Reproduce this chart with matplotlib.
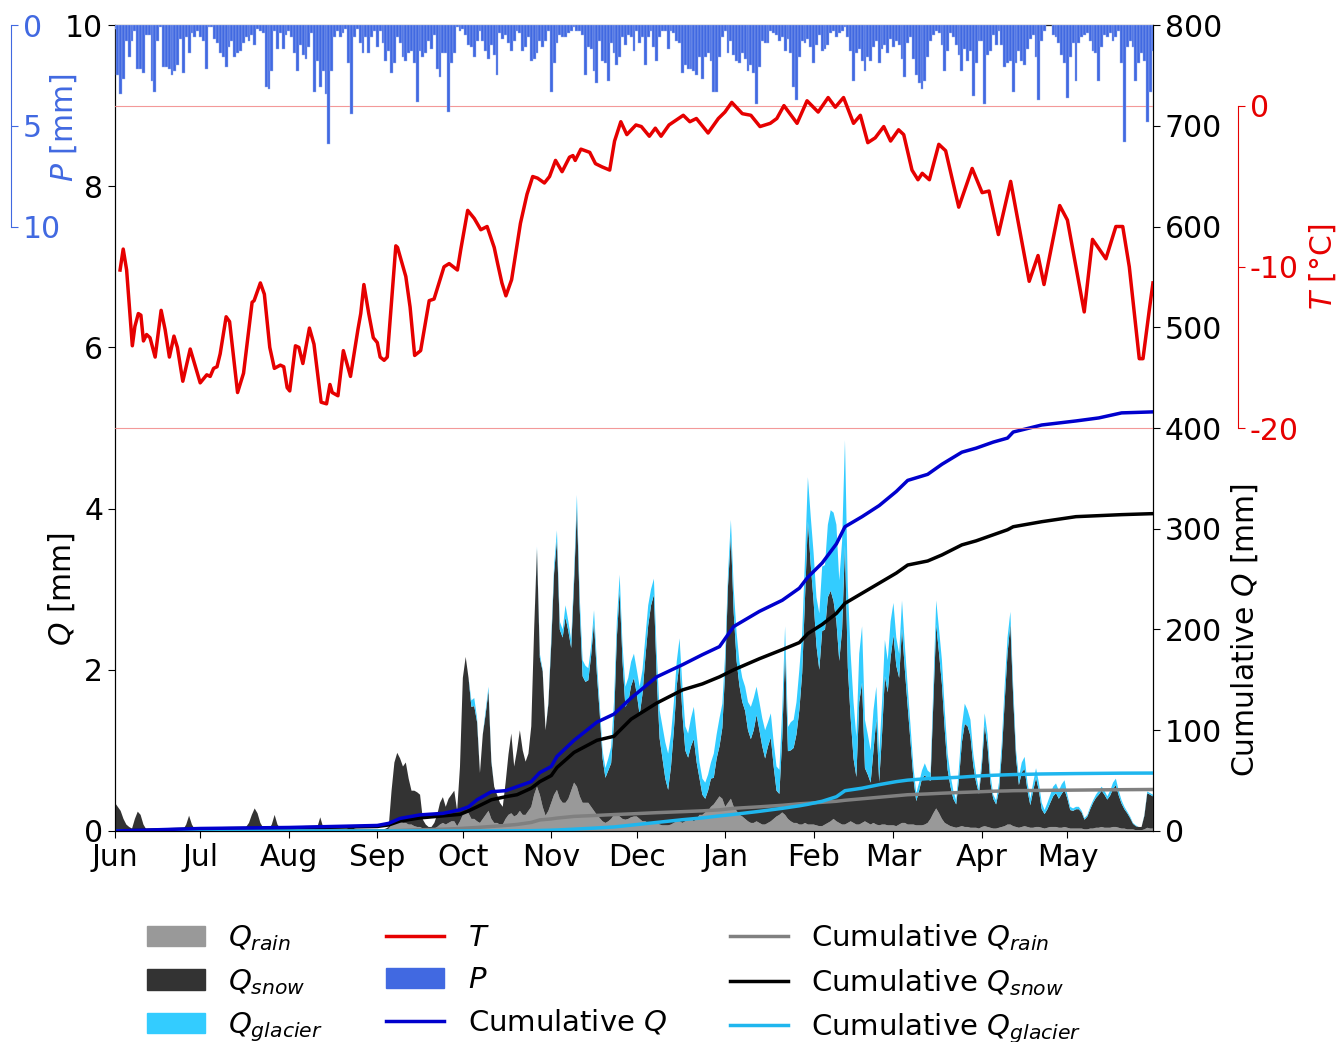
import numpy as np
import pandas as pd
import matplotlib
matplotlib.use("Agg")
import matplotlib.pyplot as plt
import matplotlib.dates as mdates
from matplotlib.patches import Patch
from matplotlib.lines import Line2D

plt.rcParams["font.size"] = 21.5
plt.rcParams["axes.unicode_minus"] = False

START = pd.Timestamp("2018-06-01")
days = pd.date_range(START, "2019-05-31", freq="D")

# ── daily precipitation P [mm] ────────────────────────────────────────────────
p_daily = [
    # Jun
    0.2, 2.5, 3.4, 2.7, 0.8, 1.6, 0.8, 0.3, 2.2, 2.2, 2.4, 0.5, 0.5, 2.8, 3.3,
    0.8, 0.1, 2.1, 2.1, 2.2, 2.5, 2.3, 2.0, 0.7, 2.4, 0.6, 1.4, 0.4, 0.6, 0.3,
    # Jul
    0.6, 0.8, 2.2, 0.1, 0.1, 0.7, 0.9, 1.4, 1.6, 2.1, 1.1, 0.8, 1.6, 1.4, 1.3, 0.9,
    0.6, 0.8, 0.5, 1.0, 0.2, 0.3, 0.4, 3.1, 3.2, 2.3, 0.3, 1.2, 0.4, 1.2, 0.5,
    # Aug
    0.3, 0.6, 1.4, 2.3, 1.0, 1.5, 1.7, 1.1, 0.4, 3.3, 1.8, 3.1, 2.3, 3.4, 5.9, 2.3,
    0.6, 0.3, 0.6, 0.4, 0.2, 1.9, 4.4, 0.6, 0.2, 0.9, 1.4, 0.6, 1.4, 0.6, 0.3,
    # Sep
    1.1, 0.3, 0.9, 1.8, 1.3, 2.4, 1.9, 0.6, 0.9, 1.6, 1.8, 1.4, 1.3, 1.9, 3.8,
    1.3, 1.6, 1.4, 0.8, 1.2, 0.5, 2.2, 2.6, 1.4, 1.4, 4.3, 1.9, 1.4, 0.1, 0.3,
    # Oct
    0.2, 0.5, 1.0, 1.1, 1.6, 0.8, 0.3, 0.8, 1.3, 1.7, 1.0, 1.5, 2.5, 0.4, 0.7, 0.5,
    0.9, 1.3, 0.8, 0.3, 0.4, 1.3, 1.1, 0.6, 1.8, 1.7, 1.4, 0.8, 1.1, 0.8, 0.3,
    # Nov
    3.3, 1.9, 0.9, 0.5, 0.6, 0.6, 0.4, 0.3, 0.1, 0.3, 0.3, 0.5, 2.5, 1.1, 1.2,
    2.3, 2.9, 0.8, 1.8, 1.9, 2.8, 0.9, 1.4, 2.0, 1.6, 0.6, 1.0, 0.5, 0.6, 1.3,
    # Dec
    0.3, 0.9, 0.6, 2.0, 0.6, 0.3, 1.1, 1.8, 0.6, 0.3, 0.3, 1.2, 0.3, 0.4, 0.8, 0.9,
    2.4, 2.0, 2.2, 2.2, 2.3, 2.5, 1.6, 2.7, 1.6, 1.4, 1.8, 3.3, 3.3, 1.6, 0.6,
    # Jan
    0.3, 1.4, 0.8, 1.5, 1.8, 1.9, 1.4, 1.7, 2.3, 2.0, 2.4, 3.9, 2.1, 0.8, 0.9, 0.9,
    0.3, 0.4, 0.5, 0.8, 0.6, 1.3, 0.7, 1.4, 3.1, 3.7, 1.6, 0.8, 0.9, 0.7, 1.1,
    # Feb
    1.9, 1.0, 0.5, 1.3, 1.2, 1.0, 0.4, 0.3, 0.6, 0.4, 0.3, 0.1, 0.6, 1.3,
    2.8, 1.4, 1.2, 1.8, 2.3, 1.6, 1.8, 1.1, 0.8, 1.9, 1.2, 1.0, 1.4, 0.7,
    # Mar
    1.1, 0.8, 1.0, 1.7, 2.6, 0.9, 0.6, 1.7, 2.5, 2.9, 3.2, 2.8, 1.6, 0.8, 0.5, 0.3,
    0.4, 1.0, 2.3, 1.3, 0.4, 0.6, 1.0, 1.5, 2.3, 1.2, 1.8, 1.3, 3.5, 1.9, 0.8,
    # Apr
    0.8, 3.9, 1.5, 1.3, 0.5, 1.0, 0.3, 1.0, 2.1, 1.9, 1.8, 3.3, 1.9, 1.3, 1.8,
    2.0, 1.2, 0.7, 0.5, 1.6, 3.7, 0.8, 0.3, 0.0, 0.0, 0.5, 0.6, 0.9, 1.5, 1.9,
    # May
    3.6, 1.6, 0.9, 2.8, 0.9, 0.6, 0.5, 0.4, 0.8, 1.3, 1.4, 2.8, 1.1, 0.5, 0.6, 0.4,
    0.8, 0.6, 0.3, 1.9, 5.8, 1.1, 0.8, 1.1, 2.8, 1.9, 1.4, 1.8, 4.8, 3.3, 1.3,
]

# ── daily runoff components [mm] ──────────────────────────────────────────────
q_snow = [
    # Jun
    0.35, 0.30, 0.25, 0.15, 0.08, 0.05, 0.03, 0.15, 0.24, 0.20, 0.08, 0.02, 0.02, 0.02, 0.02,
    0.02, 0.02, 0.02, 0.02, 0.02, 0.02, 0.02, 0.02, 0.02, 0.02, 0.08, 0.19, 0.08, 0.02, 0.01,
    # Jul
    0.02, 0.02, 0.02, 0.02, 0.02, 0.02, 0.02, 0.02, 0.02, 0.02, 0.02, 0.02, 0.02, 0.02, 0.02, 0.03,
    0.05, 0.10, 0.20, 0.28, 0.22, 0.10, 0.04, 0.02, 0.02, 0.08, 0.20, 0.08, 0.03, 0.02, 0.02,
    # Aug
    0.02, 0.02, 0.02, 0.02, 0.02, 0.02, 0.02, 0.02, 0.02, 0.02, 0.05, 0.17, 0.05, 0.02, 0.02, 0.02,
    0.02, 0.02, 0.02, 0.02, 0.02, 0.04, 0.06, 0.03, 0.02, 0.02, 0.02, 0.02, 0.02, 0.02, 0.02,
    # Sep
    0.02, 0.02, 0.02, 0.03, 0.02, 0.42, 0.75, 0.85, 0.78, 0.70, 0.75, 0.57, 0.42, 0.44, 0.43,
    0.40, 0.11, 0.06, 0.03, 0.03, 0.07, 0.15, 0.27, 0.32, 0.22, 0.30, 0.33, 0.38, 0.19, 0.68,
    # Oct
    1.70, 1.91, 1.68, 1.39, 1.40, 1.23, 0.62, 1.05, 1.25, 1.49, 0.71, 0.45, 0.35, 0.27, 0.22, 0.45,
    0.75, 0.99, 0.62, 0.80, 1.00, 0.80, 0.66, 0.71, 1.00, 2.05, 2.95, 1.70, 1.68, 1.06, 1.33,
    # Nov
    1.97, 2.75, 3.10, 2.10, 2.05, 2.30, 2.08, 1.77, 2.48, 3.47, 2.32, 1.57, 1.50, 1.52, 1.88,
    2.34, 1.75, 1.30, 0.78, 0.56, 0.63, 0.69, 1.15, 2.20, 2.80, 1.95, 1.40, 1.45, 1.63, 1.72,
    # Dec
    1.52, 1.29, 1.58, 2.03, 2.45, 2.70, 2.83, 1.80, 1.07, 0.83, 0.58, 0.44, 0.72, 1.15, 1.68, 1.97,
    1.35, 0.88, 0.76, 0.90, 1.02, 0.70, 0.45, 0.25, 0.17, 0.25, 0.35, 0.33, 0.52, 0.62, 0.88,
    # Jan
    1.70, 2.70, 3.26, 2.40, 1.86, 1.60, 1.42, 1.34, 1.13, 1.04, 1.15, 1.32, 1.15, 0.97, 0.82, 0.95,
    1.04, 0.65, 0.32, 0.26, 0.92, 2.04, 0.84, 0.88, 0.93, 1.10, 1.42, 1.88, 2.80, 3.76, 3.22,
    # Feb
    2.77, 2.23, 1.94, 2.42, 2.42, 2.80, 2.86, 2.70, 2.48, 2.01, 2.42, 3.47, 1.93, 1.28,
    0.80, 0.59, 1.52, 1.74, 0.66, 0.60, 0.52, 0.90, 1.31, 0.54, 1.12, 1.84, 1.65, 2.08,
    # Mar
    2.36, 1.99, 1.82, 2.41, 1.90, 1.46, 1.02, 0.57, 0.30, 0.43, 0.58, 0.61, 0.55, 0.47, 1.38, 2.28,
    1.98, 1.67, 1.15, 0.68, 0.49, 0.35, 0.29, 0.60, 1.04, 1.28, 1.25, 1.14, 0.77, 0.56, 0.43,
    # Apr
    0.75, 1.25, 1.00, 0.56, 0.37, 0.30, 0.46, 0.90, 1.54, 2.12, 2.49, 1.59, 0.85, 0.53, 0.68,
    0.71, 0.45, 0.28, 0.46, 0.61, 0.45, 0.23, 0.18, 0.23, 0.30, 0.38, 0.42, 0.36, 0.42, 0.46,
    # May
    0.36, 0.23, 0.22, 0.24, 0.24, 0.20, 0.12, 0.16, 0.24, 0.32, 0.37, 0.41, 0.45, 0.41, 0.35, 0.40,
    0.47, 0.52, 0.40, 0.31, 0.24, 0.20, 0.14, 0.07, 0.05, 0.04, 0.04, 0.17, 0.43, 0.42, 0.40,
]

q_rain = [0.0] * 92 + [  # nothing from rain Jun-Aug
    # Sep
    0.00, 0.00, 0.00, 0.00, 0.03, 0.08, 0.10, 0.12, 0.12, 0.10, 0.10, 0.08, 0.08, 0.06, 0.05,
    0.05, 0.03, 0.02, 0.02, 0.02, 0.03, 0.05, 0.08, 0.10, 0.08, 0.10, 0.12, 0.12, 0.06, 0.12,
    # Oct
    0.20, 0.25, 0.22, 0.15, 0.15, 0.12, 0.10, 0.15, 0.20, 0.25, 0.15, 0.10, 0.10, 0.08, 0.08, 0.15,
    0.20, 0.22, 0.18, 0.20, 0.25, 0.20, 0.20, 0.25, 0.30, 0.45, 0.55, 0.45, 0.30, 0.19, 0.25,
    # Nov
    0.35, 0.45, 0.51, 0.40, 0.35, 0.35, 0.40, 0.50, 0.60, 0.55, 0.43, 0.35, 0.35, 0.35, 0.30,
    0.25, 0.20, 0.16, 0.12, 0.10, 0.12, 0.15, 0.20, 0.20, 0.18, 0.15, 0.14, 0.15, 0.17, 0.18,
    # Dec
    0.18, 0.15, 0.12, 0.12, 0.10, 0.10, 0.10, 0.10, 0.08, 0.07, 0.07, 0.07, 0.08, 0.10, 0.12, 0.12,
    0.10, 0.12, 0.15, 0.15, 0.12, 0.15, 0.20, 0.20, 0.23, 0.25, 0.30, 0.33, 0.38, 0.43, 0.40,
    # Jan
    0.30, 0.35, 0.40, 0.30, 0.25, 0.20, 0.18, 0.15, 0.12, 0.10, 0.10, 0.12, 0.10, 0.08, 0.08, 0.10,
    0.12, 0.15, 0.18, 0.20, 0.23, 0.20, 0.15, 0.12, 0.10, 0.10, 0.08, 0.08, 0.10, 0.08, 0.08,
    # Feb
    0.08, 0.07, 0.06, 0.06, 0.08, 0.10, 0.12, 0.15, 0.12, 0.10, 0.08, 0.08, 0.10, 0.12,
    0.10, 0.08, 0.08, 0.10, 0.12, 0.10, 0.08, 0.10, 0.08, 0.07, 0.08, 0.08, 0.07, 0.07,
    # Mar
    0.07, 0.06, 0.08, 0.10, 0.10, 0.08, 0.08, 0.08, 0.07, 0.07, 0.07, 0.08, 0.10, 0.15, 0.22, 0.28,
    0.22, 0.15, 0.10, 0.08, 0.06, 0.05, 0.04, 0.05, 0.06, 0.05, 0.05, 0.04, 0.04, 0.04, 0.03,
    # Apr
    0.05, 0.06, 0.05, 0.04, 0.03, 0.03, 0.04, 0.05, 0.06, 0.08, 0.08, 0.06, 0.05, 0.04, 0.05,
    0.06, 0.05, 0.04, 0.04, 0.05, 0.05, 0.04, 0.03, 0.04, 0.05, 0.05, 0.05, 0.04, 0.04, 0.05,
    # May
    0.04, 0.03, 0.03, 0.03, 0.03, 0.03, 0.02, 0.02, 0.03, 0.03, 0.04, 0.04, 0.05, 0.04, 0.04, 0.04,
    0.05, 0.05, 0.04, 0.03, 0.03, 0.02, 0.02, 0.02, 0.01, 0.01, 0.01, 0.02, 0.04, 0.03, 0.03,
]

q_glacier = [0.0] * 122 + [  # no ice melt Jun-Sep
    # Oct
    0.00, 0.00, 0.00, 0.08, 0.10, 0.05, 0.00, 0.00, 0.05, 0.05, 0.02, 0.00, 0.00, 0.00, 0.00, 0.00,
    0.00, 0.00, 0.00, 0.00, 0.00, 0.00, 0.00, 0.00, 0.00, 0.00, 0.03, 0.05, 0.02, 0.00, 0.02,
    # Nov
    0.08, 0.10, 0.12, 0.10, 0.10, 0.15, 0.12, 0.10, 0.12, 0.15, 0.15, 0.20, 0.20, 0.15, 0.12,
    0.15, 0.15, 0.12, 0.10, 0.12, 0.15, 0.20, 0.25, 0.20, 0.20, 0.20, 0.25, 0.30, 0.30, 0.30,
    # Dec
    0.30, 0.35, 0.30, 0.25, 0.25, 0.20, 0.20, 0.30, 0.35, 0.40, 0.45, 0.45, 0.40, 0.35, 0.30, 0.30,
    0.35, 0.30, 0.30, 0.35, 0.40, 0.35, 0.20, 0.20, 0.20, 0.20, 0.20, 0.30, 0.30, 0.35, 0.30,
    # Jan
    0.20, 0.15, 0.20, 0.30, 0.35, 0.30, 0.30, 0.30, 0.35, 0.40, 0.40, 0.35, 0.35, 0.35, 0.35, 0.30,
    0.30, 0.30, 0.30, 0.30, 0.35, 0.30, 0.30, 0.35, 0.35, 0.40, 0.50, 0.50, 0.50, 0.55, 0.60,
    # Feb
    0.60, 0.60, 0.70, 0.80, 0.80, 0.90, 1.00, 1.10, 1.20, 1.00, 1.10, 1.30, 1.00, 0.80,
    0.70, 0.50, 0.60, 0.70, 0.60, 0.50, 0.40, 0.50, 0.40, 0.35, 0.40, 0.45, 0.40, 0.45,
    # Mar
    0.40, 0.35, 0.30, 0.35, 0.30, 0.25, 0.20, 0.15, 0.10, 0.10, 0.10, 0.15, 0.10, 0.10, 0.20, 0.30,
    0.30, 0.30, 0.25, 0.20, 0.15, 0.10, 0.05, 0.15, 0.20, 0.25, 0.20, 0.20, 0.15, 0.10, 0.05,
    # Apr
    0.10, 0.15, 0.15, 0.10, 0.05, 0.05, 0.10, 0.15, 0.20, 0.20, 0.15, 0.15, 0.10, 0.10, 0.12,
    0.15, 0.10, 0.08, 0.10, 0.12, 0.10, 0.08, 0.05, 0.08, 0.10, 0.12, 0.12, 0.10, 0.12, 0.12,
    # May
    0.05, 0.04, 0.03, 0.03, 0.03, 0.02, 0.02, 0.02, 0.03, 0.03, 0.04, 0.05, 0.05, 0.05, 0.04, 0.06,
    0.08, 0.08, 0.06, 0.04, 0.03, 0.02, 0.02, 0.01, 0.01, 0.00, 0.00, 0.01, 0.02, 0.02, 0.02,
]

# ── air temperature T [°C], days since 1 Jun ─────────────────────────────────
t_day = [
    1.8, 2.9, 4.1, 6.1, 7.0, 8.2, 9.1, 10.0, 11.1, 12.3,
    14.1, 16.2, 17.6, 19.1, 20.7, 21.9, 23.8, 26.4, 29.9, 32.2,
    33.4, 34.6, 35.8, 36.9, 39.0, 40.2, 43.0, 45.1, 48.1, 48.8,
    51.0, 52.4, 54.3, 55.9, 58.0, 59.2, 60.4, 61.3, 63.3, 64.5,
    65.9, 68.2, 69.8, 72.3, 74.2, 75.4, 76.2, 78.2, 80.1, 82.6,
    85.2, 86.2, 87.3, 89.0, 90.6, 92.0, 93.0, 94.4, 95.5, 98.5,
    99.1, 102.0, 103.5, 105.1, 107.2, 110.2, 111.9, 115.4, 117.2, 120.1,
    121.3, 123.7, 126.0, 128.3, 130.5, 133.0, 134.2, 135.7, 137.1, 139.1,
    142.2, 144.5, 146.5, 148.2, 150.6, 152.4, 154.5, 156.8, 159.4, 160.6,
    161.4, 163.4, 166.5, 168.5, 170.8, 173.5, 175.2, 177.4, 179.5, 182.7,
    184.6, 187.4, 189.5, 191.5, 194.3, 199.3, 201.6, 203.9, 208.0, 211.6,
    213.9, 216.3, 220.0, 223.0, 226.2, 229.8, 232.1, 234.6, 236.7, 239.2,
    242.7, 246.6, 250.1, 252.6, 255.5, 259.0, 261.4, 264.0, 266.6, 269.6,
    272.0, 274.8, 276.6, 279.5, 281.6, 283.1, 285.6, 288.9, 291.3, 295.9,
    300.6, 304.1, 306.5, 309.8, 314.1, 320.6, 323.7, 325.8, 331.3, 334.0,
    339.9, 342.8, 347.5, 351.0, 353.4, 355.7, 359.2, 360.5, 362.7, 364.0,
]
t_val = [
    -10.2, -8.9, -10.2, -14.9, -13.7, -12.9, -13.0, -14.6, -14.2, -14.4,
    -15.6, -12.7, -13.9, -15.6, -14.3, -15.0, -17.1, -15.1, -17.2, -16.7,
    -16.8, -16.3, -16.2, -15.4, -13.1, -13.4, -17.8, -16.6, -12.2, -12.1,
    -11.0, -11.7, -15.0, -16.3, -16.1, -16.2, -17.5, -17.7, -14.9, -15.0,
    -16.0, -13.8, -14.8, -18.4, -18.5, -17.3, -17.8, -18.0, -15.2, -16.8,
    -13.9, -12.9, -11.1, -12.9, -14.4, -14.7, -15.6, -15.8, -15.6, -8.7,
    -8.8, -10.6, -12.5, -15.5, -15.2, -12.1, -12.0, -10.0, -9.8, -10.2,
    -8.9, -6.5, -7.0, -7.7, -7.5, -8.8, -9.8, -11.0, -11.8, -10.8,
    -7.3, -5.5, -4.4, -4.5, -4.8, -4.4, -3.4, -4.1, -3.2, -3.1,
    -3.4, -2.7, -2.9, -3.6, -3.8, -4.0, -2.2, -1.0, -1.8, -1.2,
    -1.3, -1.9, -1.4, -1.9, -1.2, -0.6, -1.0, -0.8, -1.7, -0.8,
    -0.4, 0.2, -0.5, -0.6, -1.3, -1.1, -0.8, 0.0, -0.5, -1.1,
    0.3, -0.4, 0.5, -0.1, 0.5, -1.1, -0.6, -2.3, -2.0, -1.3,
    -2.2, -1.5, -1.8, -4.0, -4.6, -4.2, -4.6, -2.4, -2.8, -6.3,
    -3.9, -5.4, -5.3, -8.0, -4.7, -10.9, -9.3, -11.1, -6.2, -7.1,
    -12.8, -8.3, -9.5, -7.5, -7.5, -10.0, -15.7, -15.7, -12.7, -11.0,
]

# ── cumulative runoff [mm], days since 1 Jun ─────────────────────────────────
cum_day = [0, 30, 61, 92, 96, 100, 107, 115, 121, 124,
           127, 132, 137, 141, 146, 149, 153, 155, 161, 169,
           175, 181, 190, 199, 206, 212, 217, 226, 234, 240,
           243, 248, 253, 256, 262, 268, 274, 278, 285, 290,
           297, 302, 308, 313, 315, 325, 337, 345, 353, 364]
cum_q = [0, 2.5, 3.5, 5.5, 7.6, 12.5, 16, 17.5, 21, 24,
         31, 39, 40, 44, 49, 58, 64, 74, 90, 108,
         116, 132, 153, 165, 175, 183, 203, 218, 229, 241,
         252, 266, 285, 302, 312, 323, 337, 348, 354, 364,
         376, 380, 386, 390, 396, 403, 407, 410, 415, 416]
cum_snow = [0, 2, 3, 4.5, 6, 9.9, 13, 15, 16.5, 20,
            24, 31, 34, 36, 42.5, 49, 55, 63, 78, 90,
            94, 111, 127, 140, 146, 153, 160, 171, 180, 187,
            196, 205, 216, 226, 236, 246, 256, 264, 268, 274,
            284, 288, 294, 299, 302, 307, 312, 313, 314, 315]
cum_rain = [0, 0, 0, 0, 0.1, 0.5, 1.2, 1.8, 2.5, 3,
            3.5, 4.5, 5.5, 6.5, 8.5, 11, 12, 12.8, 14.5, 15.5,
            16.3, 17, 18.2, 19.2, 20, 21, 22.5, 24, 25.5, 27,
            27.5, 28.5, 29.5, 30.5, 32, 33.5, 35, 36, 36.8, 37.5,
            38.3, 38.8, 39.5, 39.8, 40, 40.3, 40.6, 40.8, 41, 41.2]
cum_glacier = [0, 0, 0, 0, 0, 0, 0, 0, 0, 0,
               0, 0, 0.1, 0.2, 0.3, 0.5, 0.8, 1, 1.8, 3,
               4, 5.8, 8.5, 11.2, 13, 15, 16.5, 19.5, 22.5, 25,
               26.5, 29.5, 34, 40, 42.5, 46, 49, 50.5, 52, 52.5,
               53.5, 54.5, 55.3, 55.8, 56, 56.6, 57, 57.2, 57.4, 57.5]

t_dates = START + pd.to_timedelta(t_day, unit="D")
cum_dates = START + pd.to_timedelta(cum_day, unit="D")

C_RAIN, C_SNOW, C_GLAC = "#999999", "#333333", "#33ccff"
C_P, C_T, C_CUMQ, C_CUMGLAC = "#4169e1", "#e60000", "#0000cd", "#1fb6ee"

# ── figure ────────────────────────────────────────────────────────────────────
fig = plt.figure(figsize=(13.38, 10.42), dpi=100)
ax = fig.add_axes([0.0859, 0.2025, 0.7758, 0.7735])

# daily runoff, stacked
ax.stackplot(days, q_rain, q_snow, q_glacier,
             colors=[C_RAIN, C_SNOW, C_GLAC], linewidth=0)
ax.set_xlim(days[0], days[-1])
ax.set_ylim(0, 10)
ax.set_yticks(np.arange(0, 11, 2))
ax.set_ylabel("$Q$ [mm]")
ax.yaxis.set_label_coords(-0.037, 0.30)
ax.xaxis.set_major_locator(mdates.MonthLocator())
ax.xaxis.set_major_formatter(mdates.DateFormatter("%b"))
ax.tick_params(length=5)

# cumulative runoff
ax_c = ax.twinx()
ax_c.plot(cum_dates, cum_rain, color="#808080", lw=2.5)
ax_c.plot(cum_dates, cum_snow, color="black", lw=2.5)
ax_c.plot(cum_dates, cum_glacier, color=C_CUMGLAC, lw=2.5)
ax_c.plot(cum_dates, cum_q, color=C_CUMQ, lw=2.5)
ax_c.set_ylim(0, 800)
ax_c.set_yticks(np.arange(0, 801, 100))
ax_c.set_ylabel("Cumulative $Q$ [mm]")
ax_c.yaxis.set_label_coords(1.074, 0.25)
ax_c.tick_params(length=5)

# temperature on an offset right spine
ax_t = ax.twinx()
for side in ("top", "bottom", "left"):
    ax_t.spines[side].set_visible(False)
ax_t.spines["right"].set_position(("axes", 1.082))
ax_t.spines["right"].set_color(C_T)
ax_t.spines["right"].set_bounds(-20, 0)
ax_t.axhline(0, color="#f08080", lw=0.8, alpha=0.8)
ax_t.axhline(-20, color="#f08080", lw=0.8, alpha=0.8)
ax_t.plot(t_dates, t_val, color=C_T, lw=2.5)
ax_t.set_ylim(-45, 5)
ax_t.set_yticks([-20, -10, 0])
ax_t.tick_params(axis="y", colors=C_T, length=5)
ax_t.set_ylabel("$T$ [°C]", color=C_T)
ax_t.yaxis.set_label_coords(1.149, 0.70)

# precipitation hanging from the top, axis on the far left
ax_p = ax.twinx()
for side in ("top", "bottom", "left"):
    ax_p.spines[side].set_visible(False)
ax_p.spines["right"].set_position(("axes", -0.1))
ax_p.spines["right"].set_color(C_P)
ax_p.spines["right"].set_bounds(0, 10)
ax_p.bar(days, p_daily, width=1.0, color=C_P, edgecolor="#9db2f0", linewidth=0.3)
ax_p.set_ylim(40, 0)
ax_p.set_yticks([0, 5, 10])
ax_p.tick_params(axis="y", colors=C_P, length=5)
ax_p.set_ylabel("$P$ [mm]", color=C_P)
ax_p.yaxis.set_label_coords(-0.0645, 0.872)

handles = [
    Patch(color=C_RAIN, label="$Q_{rain}$"),
    Patch(color=C_SNOW, label="$Q_{snow}$"),
    Patch(color=C_GLAC, label="$Q_{glacier}$"),
    Line2D([], [], color=C_T, lw=2.5, label="$T$"),
    Patch(color=C_P, label="$P$"),
    Line2D([], [], color=C_CUMQ, lw=2.5, label="Cumulative $Q$"),
    Line2D([], [], color="#808080", lw=2.5, label="Cumulative $Q_{rain}$"),
    Line2D([], [], color="black", lw=2.5, label="Cumulative $Q_{snow}$"),
    Line2D([], [], color=C_CUMGLAC, lw=2.5, label="Cumulative $Q_{glacier}$"),
]
fig.legend(handles=handles, ncol=3, frameon=False, loc="upper left",
           bbox_to_anchor=(0.101, 0.126), borderaxespad=0, fontsize=21,
           labelspacing=0.47, columnspacing=2.15)

fig.savefig("out.png", dpi=100)
plt.close(fig)
